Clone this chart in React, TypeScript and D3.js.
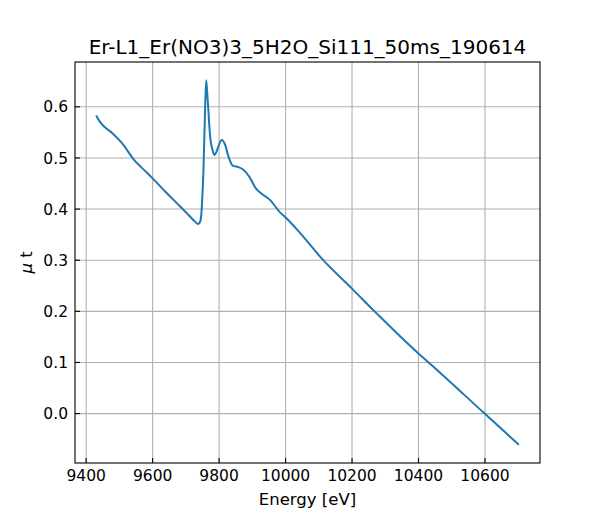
import React from "react";
import * as d3 from "d3";

// energy [eV] and mu t
const energy: number[] = [
  9430, 9440, 9453, 9478, 9508, 9543, 9583, 9600, 9643, 9683, 9713, 9728,
  9736, 9742, 9746, 9750, 9753, 9757, 9761, 9764, 9767, 9773, 9780, 9786,
  9792, 9798, 9808, 9818, 9828, 9841, 9858, 9873, 9893, 9910, 9928, 9953,
  9984, 10001, 10044, 10112, 10202, 10274, 10399, 10434, 10599, 10702,
];
const mu: number[] = [
  0.583, 0.572, 0.562, 0.549, 0.529, 0.497, 0.471, 0.46, 0.431, 0.405, 0.385,
  0.375, 0.371, 0.374, 0.386, 0.43, 0.477, 0.575, 0.652, 0.63, 0.6, 0.542,
  0.516, 0.506, 0.512, 0.523, 0.535, 0.526, 0.503, 0.485, 0.482, 0.477, 0.461,
  0.441, 0.43, 0.418, 0.393, 0.383, 0.353, 0.301, 0.243, 0.196, 0.118, 0.098,
  0.0, -0.061,
];
const xTicks: number[] = [9400, 9600, 9800, 10000, 10200, 10400, 10600];
const yTicks: number[] = [0.0, 0.1, 0.2, 0.3, 0.4, 0.5, 0.6];
const title = "Er-L1_Er(NO3)3_5H2O_Si111_50ms_190614";

const width = 600;
const height = 520;
const marginLeft = 75;
const marginRight = 60;
const marginTop = 62;
const marginBottom = 57;

// matplotlib style 5% padding
function padded(ext: [number, number]): [number, number] {
  const p = (ext[1] - ext[0]) * 0.05;
  return [ext[0] - p, ext[1] + p];
}

export default function App() {
  const x = d3
    .scaleLinear()
    .domain(padded(d3.extent(energy) as [number, number]))
    .range([marginLeft, width - marginRight]);
  const y = d3
    .scaleLinear()
    .domain(padded(d3.extent(mu) as [number, number]))
    .range([height - marginBottom, marginTop]);

  const pts: [number, number][] = energy.map((e, i) => [e, mu[i]]);
  const line = d3
    .line<[number, number]>()
    .x((d) => x(d[0]))
    .y((d) => y(d[1]))
    .curve(d3.curveMonotoneX);

  const x0 = marginLeft;
  const x1 = width - marginRight;
  const y0 = height - marginBottom;
  const y1 = marginTop;
  const font = "'DejaVu Sans', sans-serif";

  return (
    <svg
      width={width}
      height={height}
      style={{ position: "absolute", left: 0, top: 0, background: "#fff" }}
      fontFamily={font}
    >
      {/* grid */}
      {xTicks.map((t) => (
        <line key={"gx" + t} x1={x(t)} x2={x(t)} y1={y1} y2={y0} stroke="#b0b0b0" strokeWidth={1.1} />
      ))}
      {yTicks.map((t) => (
        <line key={"gy" + t} x1={x0} x2={x1} y1={y(t)} y2={y(t)} stroke="#b0b0b0" strokeWidth={1.1} />
      ))}

      <path d={line(pts) || ""} fill="none" stroke="#1f77b4" strokeWidth={2} strokeLinejoin="round" />

      {/* ticks, pointing in */}
      {xTicks.map((t) => (
        <g key={"tx" + t}>
          <line x1={x(t)} x2={x(t)} y1={y0} y2={y0 - 5} stroke="#000" strokeWidth={1.1} />
          <text x={x(t)} y={y0 + 18} textAnchor="middle" fontSize={15.5}>
            {t}
          </text>
        </g>
      ))}
      {yTicks.map((t) => (
        <g key={"ty" + t}>
          <line x1={x0} x2={x0 + 5} y1={y(t)} y2={y(t)} stroke="#000" strokeWidth={1.1} />
          <text x={x0 - 7} y={y(t)} dy="0.36em" textAnchor="end" fontSize={15.5}>
            {d3.format(".1f")(t)}
          </text>
        </g>
      ))}

      <rect x={x0} y={y1} width={x1 - x0} height={y0 - y1} fill="none" stroke="#000" strokeWidth={1.1} />

      <text x={(x0 + x1) / 2} y={54} textAnchor="middle" fontSize={20}>
        {title}
      </text>
      <text x={(x0 + x1) / 2} y={505} textAnchor="middle" fontSize={16.5}>
        Energy [eV]
      </text>
      <text
        transform={`translate(32,${(y0 + y1) / 2}) rotate(-90)`}
        textAnchor="middle"
        fontSize={16.5}
      >
        <tspan fontStyle="italic">μ</tspan> t
      </text>
    </svg>
  );
}
